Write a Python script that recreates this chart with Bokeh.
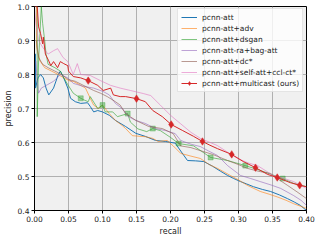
from bokeh.plotting import figure
from bokeh.models import NumeralTickFormatter, FixedTicker, Legend, LegendItem
from bokeh.embed import file_html
from bokeh.resources import INLINE

# ---- data ----
rec_att = [0.0, 0.0, 0.0015, 0.0015, 0.005, 0.009, 0.013, 0.017, 0.021, 0.028,
           0.035, 0.038, 0.043, 0.049, 0.053, 0.06, 0.068, 0.078, 0.082, 0.087,
           0.093, 0.1, 0.11, 0.119, 0.134, 0.149, 0.163, 0.178, 0.193, 0.207,
           0.215, 0.225, 0.237, 0.249, 0.262, 0.274, 0.284, 0.293, 0.303, 0.312,
           0.322, 0.335, 0.347, 0.36, 0.372, 0.382, 0.391, 0.4]
prec_att = [1.0, 0.86, 0.86, 0.76, 0.79, 0.80, 0.79, 0.76, 0.74, 0.76,
            0.80, 0.81, 0.79, 0.76, 0.73, 0.72, 0.715, 0.717, 0.706, 0.69,
            0.694, 0.69, 0.68, 0.665, 0.647, 0.627, 0.618, 0.606, 0.603, 0.598,
            0.575, 0.547, 0.546, 0.544, 0.53, 0.515, 0.503, 0.494, 0.485, 0.478,
            0.47, 0.462, 0.456, 0.446, 0.435, 0.425, 0.415, 0.40]

rec_adv = [0.003, 0.003, 0.008, 0.015, 0.025, 0.035, 0.043, 0.053, 0.057, 0.068,
           0.075, 0.082, 0.087, 0.094, 0.1, 0.11, 0.119, 0.129, 0.134, 0.144,
           0.163, 0.174, 0.182, 0.195, 0.204, 0.215, 0.23, 0.244, 0.257, 0.269,
           0.288, 0.3, 0.313, 0.332, 0.345, 0.357, 0.37, 0.381, 0.392, 0.4]
prec_adv = [1.0, 0.88, 0.84, 0.82, 0.81, 0.80, 0.79, 0.78, 0.78, 0.768,
            0.76, 0.73, 0.71, 0.70, 0.71, 0.685, 0.665, 0.65, 0.641, 0.62,
            0.617, 0.612, 0.603, 0.606, 0.59, 0.568, 0.56, 0.553, 0.535, 0.524,
            0.503, 0.49, 0.474, 0.456, 0.448, 0.44, 0.43, 0.42, 0.412, 0.406]

rec_dsgan = [0.004, 0.004, 0.006, 0.01, 0.012, 0.015, 0.017, 0.02, 0.03, 0.038,
             0.043, 0.049, 0.057, 0.068, 0.073, 0.079, 0.082, 0.093, 0.1, 0.104,
             0.115, 0.122, 0.137, 0.141, 0.152, 0.165, 0.174, 0.185, 0.2, 0.212,
             0.234, 0.259, 0.284, 0.31, 0.332, 0.35, 0.365, 0.381, 0.4]
prec_dsgan = [1.0, 0.676, 0.84, 1.0, 0.95, 0.9, 0.86, 0.83, 0.82, 0.81,
              0.79, 0.77, 0.745, 0.73, 0.725, 0.72, 0.735, 0.70, 0.71, 0.69,
              0.69, 0.676, 0.685, 0.66, 0.64, 0.632, 0.641, 0.635, 0.615, 0.597,
              0.59, 0.556, 0.547, 0.532, 0.518, 0.505, 0.494, 0.48, 0.47]
rec_dsgan_mk = [0.068, 0.1, 0.137, 0.174, 0.212, 0.259, 0.31, 0.365]
prec_dsgan_mk = [0.73, 0.71, 0.685, 0.641, 0.597, 0.556, 0.532, 0.494]

rec_ra = [0.002, 0.004, 0.006, 0.01, 0.019, 0.028, 0.038, 0.049, 0.057, 0.072,
          0.087, 0.101, 0.11, 0.119, 0.129, 0.138, 0.149, 0.163, 0.178, 0.193,
          0.207, 0.215, 0.23, 0.244, 0.256, 0.269, 0.284, 0.303, 0.318, 0.332,
          0.348, 0.362, 0.381, 0.392, 0.4]
prec_ra = [0.84, 0.78, 0.745, 0.76, 0.77, 0.78, 0.80, 0.79, 0.774, 0.765,
           0.76, 0.75, 0.74, 0.715, 0.70, 0.676, 0.665, 0.656, 0.641, 0.635,
           0.626, 0.606, 0.595, 0.588, 0.575, 0.562, 0.532, 0.503, 0.494, 0.485,
           0.475, 0.465, 0.444, 0.43, 0.415]

rec_dc = [0.003, 0.006, 0.012, 0.02, 0.03, 0.04, 0.05, 0.06, 0.07, 0.087,
          0.097, 0.107, 0.119, 0.126, 0.134, 0.149, 0.168, 0.188, 0.204, 0.215,
          0.23, 0.244, 0.262, 0.284, 0.3, 0.313, 0.33, 0.347, 0.36, 0.372,
          0.386, 0.4]
prec_dc = [0.9, 0.85, 0.83, 0.82, 0.81, 0.80, 0.785, 0.78, 0.77, 0.753,
           0.745, 0.735, 0.72, 0.71, 0.685, 0.665, 0.647, 0.641, 0.626, 0.59,
           0.585, 0.576, 0.565, 0.547, 0.535, 0.524, 0.515, 0.509, 0.49, 0.474,
           0.455, 0.435]

rec_sa = [0.0, 0.0, 0.002, 0.006, 0.012, 0.02, 0.028, 0.034, 0.042, 0.049,
          0.057, 0.063, 0.068, 0.082, 0.097, 0.112, 0.126, 0.141, 0.16, 0.171,
          0.185, 0.2, 0.215, 0.23, 0.244, 0.269, 0.285, 0.299, 0.314, 0.328,
          0.351, 0.366, 0.381, 0.4]
prec_sa = [0.4, 1.0, 0.95, 0.9, 0.88, 0.86, 0.87, 0.876, 0.85, 0.838,
           0.80, 0.832, 0.80, 0.797, 0.782, 0.768, 0.76, 0.753, 0.744, 0.738,
           0.71, 0.68, 0.655, 0.63, 0.612, 0.591, 0.57, 0.553, 0.54, 0.532,
           0.503, 0.495, 0.485, 0.465]

rec_mc = [0.0, 0.004, 0.006, 0.009, 0.012, 0.013, 0.016, 0.021, 0.024, 0.028,
          0.034, 0.038, 0.043, 0.049, 0.05, 0.057, 0.068, 0.079, 0.093, 0.101,
          0.112, 0.116, 0.126, 0.134, 0.15, 0.163, 0.174, 0.188, 0.201, 0.218,
          0.234, 0.247, 0.258, 0.269, 0.29, 0.307, 0.325, 0.343, 0.357, 0.376,
          0.39, 0.4]
prec_mc = [1.0, 1.0, 0.94, 0.92, 0.89, 0.91, 0.86, 0.84, 0.826, 0.838,
           0.82, 0.838, 0.832, 0.826, 0.81, 0.794, 0.79, 0.782, 0.768, 0.753,
           0.76, 0.74, 0.735, 0.735, 0.729, 0.72, 0.694, 0.676, 0.653, 0.635,
           0.618, 0.603, 0.592, 0.582, 0.565, 0.544, 0.526, 0.506, 0.497, 0.482,
           0.474, 0.47]
rec_mc_mk = [0.079, 0.15, 0.201, 0.247, 0.29, 0.325, 0.357, 0.39]
prec_mc_mk = [0.782, 0.729, 0.653, 0.603, 0.565, 0.526, 0.497, 0.474]

labels = ["pcnn-att", "pcnn-att+adv", "pcnn-att+dsgan", "pcnn-att-ra+bag-att",
          "pcnn-att+dc*", "pcnn-att+self-att+ccl-ct*", "pcnn-att+multicast (ours)"]
x_ticks = [0.0, 0.05, 0.10, 0.15, 0.20, 0.25, 0.30, 0.35, 0.40]
y_ticks = [0.4, 0.5, 0.6, 0.7, 0.8, 0.9, 1.0]

FONT = "DejaVu Sans"

p = figure(frame_width=272, frame_height=204, x_range=(0, 0.4), y_range=(0.4, 1.0),
           output_backend="svg", toolbar_location=None,
           min_border_left=26, min_border_right=10, min_border_top=6, min_border_bottom=22)

p.background_fill_color = "#f0f0f0"
p.border_fill_color = "white"
p.outline_line_color = "black"
p.outline_line_width = 1
p.outline_line_alpha = 1

p.xaxis.ticker = FixedTicker(ticks=x_ticks)
p.yaxis.ticker = FixedTicker(ticks=y_ticks)
p.xaxis.formatter = NumeralTickFormatter(format="0.00")
p.yaxis.formatter = NumeralTickFormatter(format="0.0")
p.xaxis.axis_label = "recall"
p.yaxis.axis_label = "precision"
for ax in (p.xaxis, p.yaxis):
    ax.major_label_text_font = FONT
    ax.major_label_text_font_size = "7.5px"
    ax.major_label_text_color = "#222222"
    ax.axis_label_text_font = FONT
    ax.axis_label_text_font_size = "8px"
    ax.axis_label_text_font_style = "normal"
    ax.axis_label_text_color = "#222222"
    ax.axis_label_standoff = 2
    ax.major_label_standoff = 2
    ax.major_tick_in = 0
    ax.major_tick_out = 3
    ax.minor_tick_line_color = None
    ax.axis_line_color = "black"
    ax.major_tick_line_color = "black"

p.grid.grid_line_color = "#b0b0b0"
p.grid.grid_line_width = 1
p.xgrid.ticker = FixedTicker(ticks=x_ticks)
p.ygrid.ticker = FixedTicker(ticks=y_ticks)

A = 0.6
items = []
r = p.line(rec_att, prec_att, line_color="#1f77b4", line_width=1)
items.append(LegendItem(label=labels[0], renderers=[r]))
r = p.line(rec_adv, prec_adv, line_color="#ff7f0e", line_alpha=A, line_width=1)
items.append(LegendItem(label=labels[1], renderers=[r]))
r = p.line(rec_dsgan, prec_dsgan, line_color="#2ca02c", line_alpha=A, line_width=1)
p.scatter(rec_dsgan_mk, prec_dsgan_mk, marker="square", size=5, fill_color="#2ca02c",
          fill_alpha=0.45, line_color="#2ca02c", line_alpha=0.3)
items.append(LegendItem(label=labels[2], renderers=[r]))
r = p.line(rec_ra, prec_ra, line_color="#9467bd", line_alpha=A, line_width=1)
items.append(LegendItem(label=labels[3], renderers=[r]))
r = p.line(rec_dc, prec_dc, line_color="#8c564b", line_alpha=A, line_width=1)
items.append(LegendItem(label=labels[4], renderers=[r]))
r = p.line(rec_sa, prec_sa, line_color="#e377c2", line_alpha=A, line_width=1)
items.append(LegendItem(label=labels[5], renderers=[r]))
r1 = p.line(rec_mc, prec_mc, line_color="#d62728", line_width=1)
r2 = p.scatter(rec_mc_mk, prec_mc_mk, marker="diamond", size=7.5, fill_color="#d62728",
               line_color="#d62728", line_width=0.5)
items.append(LegendItem(label=labels[6], renderers=[r1, r2]))

legend = Legend(items=items, location=(143, 118))
legend.label_text_font = FONT
legend.label_text_font_size = "7.5px"
legend.label_text_color = "#222222"
legend.label_height = 10
legend.glyph_height = 10
legend.glyph_width = 16
legend.label_standoff = 5
legend.spacing = 1
legend.padding = 3
legend.margin = 0
legend.border_line_color = "#cccccc"
legend.border_line_width = 1
legend.background_fill_color = "white"
legend.background_fill_alpha = 0.8
p.add_layout(legend)

open("out.html", "w").write(file_html(p, INLINE))
